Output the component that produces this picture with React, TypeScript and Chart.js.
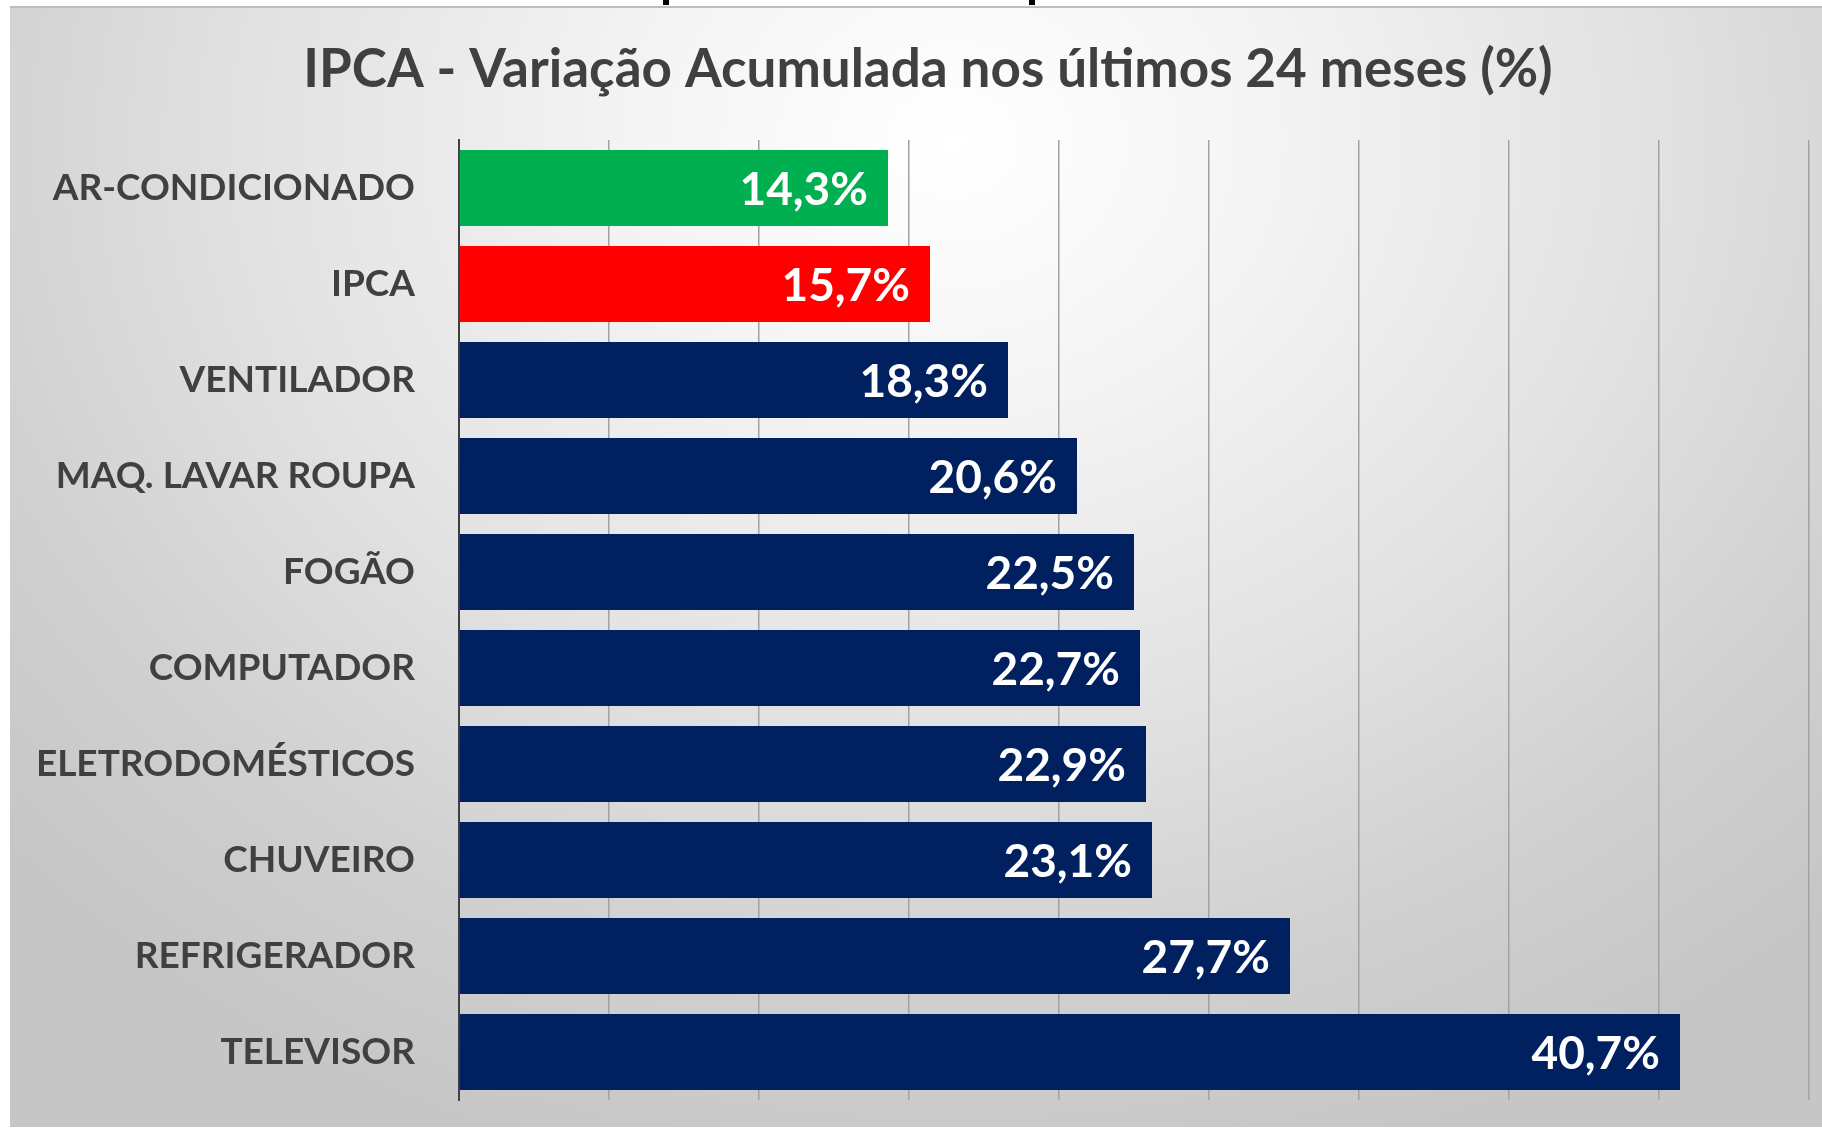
import React, { useEffect, useRef } from "react";
import { Chart, registerables } from "chart.js";

Chart.register(...registerables);

const titleText = "IPCA - Variação Acumulada nos últimos 24 meses (%)";
const categories = [
  "AR-CONDICIONADO",
  "IPCA",
  "VENTILADOR",
  "MAQ. LAVAR ROUPA",
  "FOGÃO",
  "COMPUTADOR",
  "ELETRODOMÉSTICOS",
  "CHUVEIRO",
  "REFRIGERADOR",
  "TELEVISOR",
];
const values = [14.3, 15.7, 18.3, 20.6, 22.5, 22.7, 22.9, 23.1, 27.7, 40.7];
const valueLabels = ["14,3%", "15,7%", "18,3%", "20,6%", "22,5%", "22,7%", "22,9%", "23,1%", "27,7%", "40,7%"];
const barColors = [
  "#00B050",
  "#FF0000",
  "#002060",
  "#002060",
  "#002060",
  "#002060",
  "#002060",
  "#002060",
  "#002060",
  "#002060",
];
const xMin = 0;
const xMax = 45;
const xStep = 5;

const valueLabelPlugin = {
  id: "valueLabels",
  afterDatasetsDraw(chart: any) {
    const ctx = chart.ctx;
    const meta = chart.getDatasetMeta(0);
    ctx.save();
    ctx.font = "bold 46px Lato";
    ctx.fillStyle = "#ffffff";
    ctx.textAlign = "right";
    ctx.textBaseline = "middle";
    meta.data.forEach((bar: any, i: number) => {
      ctx.fillText(valueLabels[i], bar.x - 20, bar.y + 2);
    });
    ctx.restore();
  },
};

const titlePlugin = {
  id: "customTitle",
  afterDraw(chart: any) {
    const ctx = chart.ctx;
    ctx.save();
    ctx.font = "bold 53px Lato";
    ctx.fillStyle = "#404040";
    ctx.textAlign = "center";
    ctx.textBaseline = "middle";
    ctx.fillText(titleText, 928, 70);
    ctx.restore();
  },
};

export default function App() {
  const canvasRef = useRef<HTMLCanvasElement | null>(null);

  useEffect(() => {
    document.body.style.margin = "0";
    const canvas = canvasRef.current;
    if (!canvas) return;
    const chart = new Chart(canvas, {
      type: "bar",
      data: {
        labels: categories,
        datasets: [
          {
            data: values,
            backgroundColor: barColors,
            borderWidth: 0,
            barPercentage: 0.79,
            categoryPercentage: 1,
          },
        ],
      },
      plugins: [valueLabelPlugin, titlePlugin],
      options: {
        indexAxis: "y",
        responsive: false,
        animation: false,
        devicePixelRatio: 1,
        layout: { padding: { left: 10, right: 13, top: 140, bottom: 28 } },
        plugins: {
          legend: { display: false },
          tooltip: { enabled: false },
          title: { display: false },
        },
        scales: {
          x: {
            min: xMin,
            max: xMax,
            ticks: { display: false, stepSize: xStep },
            grid: { color: "#a2a2a2", lineWidth: 1.5, drawTicks: false },
            border: { display: false },
            afterFit: (scale: any) => {
              scale.height = 0;
              scale.paddingLeft = 0;
              scale.paddingRight = 0;
            },
          },
          y: {
            ticks: {
              color: "#404040",
              font: { family: "Lato", weight: "bold", size: 37 },
              padding: 44,
            },
            grid: { display: false, drawTicks: false },
            border: { display: true, color: "#404040", width: 2 },
            afterFit: (scale: any) => {
              scale.width = 449;
              scale.paddingTop = 0;
              scale.paddingBottom = 0;
            },
          },
        },
      },
    } as any);
    return () => chart.destroy();
  }, []);

  return (
    <div
      style={{
        position: "fixed",
        left: 0,
        top: 0,
        width: 1822,
        height: 1128,
        background: "#ffffff",
        overflow: "hidden",
      }}
    >
      <div style={{ position: "absolute", left: 663, top: 0, width: 6, height: 5, background: "#000" }} />
      <div style={{ position: "absolute", left: 1029, top: 0, width: 6, height: 5, background: "#000" }} />
      <div
        style={{
          position: "absolute",
          left: 10,
          top: 6,
          width: 1812,
          height: 1121,
          borderTop: "2px solid #bdbdbd",
          boxSizing: "border-box",
          background:
            "radial-gradient(ellipse 70% 95% at 52% 12%, #ffffff 0%, #f4f4f4 25%, #e2e2e2 55%, #d0d0d0 80%, #c6c6c6 100%)",
        }}
      />
      <canvas
        ref={canvasRef}
        width={1822}
        height={1128}
        style={{ position: "absolute", left: 0, top: 0, width: 1822, height: 1128 }}
      />
    </div>
  );
}
